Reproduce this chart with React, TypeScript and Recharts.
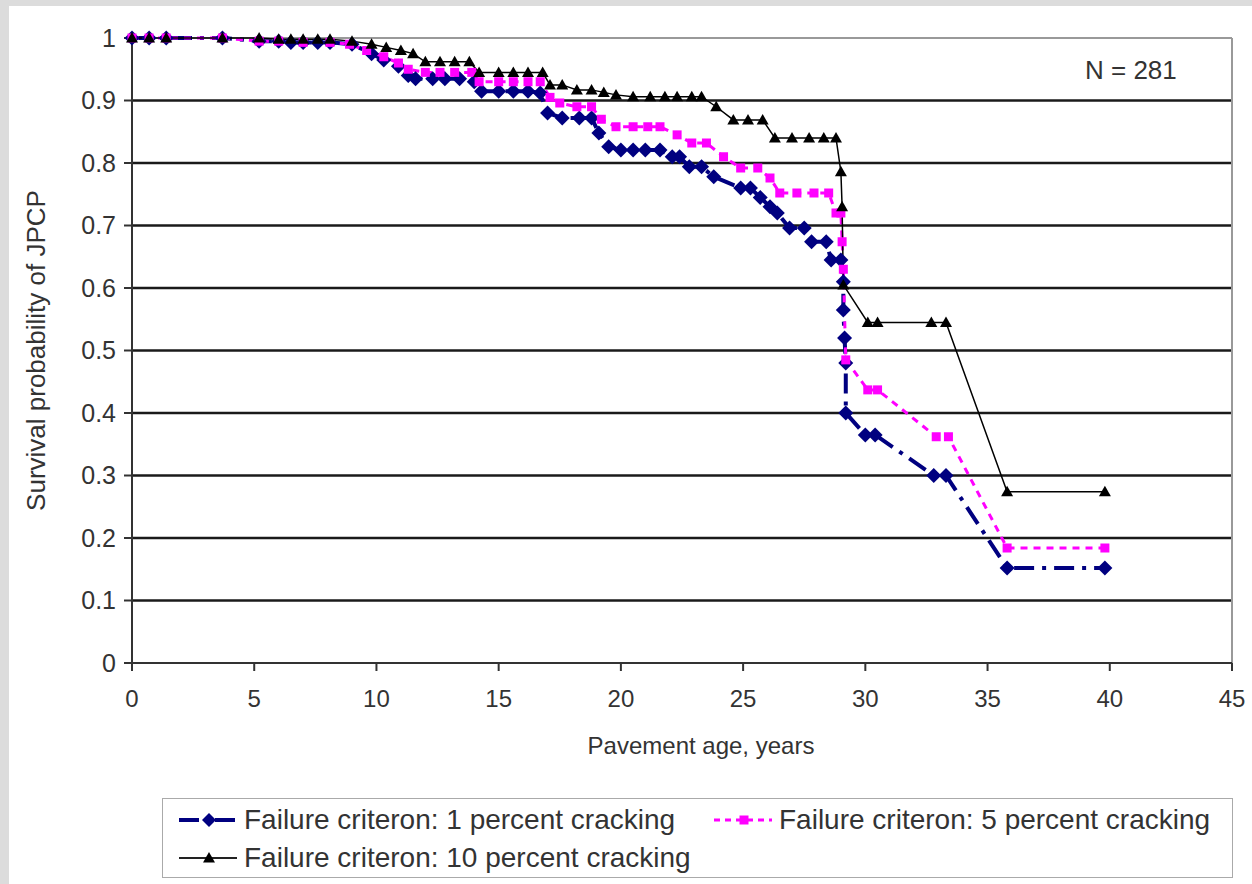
import { LineChart, Line, XAxis, YAxis, ReferenceLine } from 'recharts';

const xTicks = [0, 5, 10, 15, 20, 25, 30, 35, 40, 45];
const yTicks = [0, 0.1, 0.2, 0.3, 0.4, 0.5, 0.6, 0.7, 0.8, 0.9, 1];
const gridLevels = [0.1, 0.2, 0.3, 0.4, 0.5, 0.6, 0.7, 0.8, 0.9];

const seriesNames = [
  'Failure criteron: 1 percent cracking',
  'Failure criteron: 5 percent cracking',
  'Failure criteron: 10 percent cracking',
];

// [age, survival probability]
const crack1: [number, number][] = [
  [0, 1], [0.7, 1], [1.4, 1], [3.7, 1], [5.2, 0.995], [6, 0.995], [6.5, 0.993], [7, 0.993],
  [7.6, 0.993], [8.1, 0.993], [9, 0.99], [9.8, 0.975], [10.3, 0.965], [10.9, 0.955], [11.3, 0.94],
  [11.6, 0.935], [12.3, 0.935], [12.8, 0.935], [13.4, 0.935], [14, 0.93], [14.3, 0.915], [15, 0.915],
  [15.6, 0.915], [16.2, 0.915], [16.7, 0.912], [17, 0.88], [17.6, 0.872], [18.3, 0.872], [18.8, 0.872],
  [19.1, 0.848], [19.5, 0.826], [20, 0.821], [20.5, 0.821], [21, 0.821], [21.6, 0.821], [22.1, 0.81],
  [22.4, 0.81], [22.8, 0.794], [23.3, 0.794], [23.8, 0.778], [24.9, 0.76], [25.3, 0.76], [25.7, 0.745],
  [26.1, 0.73], [26.4, 0.72], [26.9, 0.696], [27.5, 0.696], [27.8, 0.674], [28.4, 0.674], [28.6, 0.645],
  [29, 0.645], [29.1, 0.61], [29.1, 0.565], [29.15, 0.52], [29.2, 0.48], [29.2, 0.4], [30, 0.365],
  [30.4, 0.365], [32.8, 0.3], [33.3, 0.3], [35.8, 0.152], [39.8, 0.152],
];

const crack5: [number, number][] = [
  [0, 1], [0.7, 1], [1.4, 1], [3.7, 1], [5.2, 0.995], [6, 0.995], [7, 0.993], [8.1, 0.993],
  [8.9, 0.99], [9.6, 0.98], [10.3, 0.97], [10.9, 0.96], [11.3, 0.95], [12, 0.945], [12.6, 0.945],
  [13.2, 0.945], [13.9, 0.945], [14.2, 0.93], [15, 0.93], [15.6, 0.93], [16.2, 0.93], [16.7, 0.93],
  [17.1, 0.905], [17.5, 0.896], [18.2, 0.89], [18.8, 0.89], [19.2, 0.87], [19.8, 0.858], [20.5, 0.858],
  [21.1, 0.858], [21.6, 0.858], [22.3, 0.845], [22.9, 0.832], [23.5, 0.832], [24.2, 0.81], [24.9, 0.792],
  [25.6, 0.792], [26.1, 0.776], [26.5, 0.752], [27.2, 0.752], [27.9, 0.752], [28.5, 0.752], [28.8, 0.72],
  [29, 0.72], [29.05, 0.674], [29.1, 0.63], [29.2, 0.485], [30.1, 0.437], [30.5, 0.437], [32.9, 0.362],
  [33.4, 0.362], [35.8, 0.184], [39.8, 0.184],
];

const crack10: [number, number][] = [
  [0, 1], [0.7, 1], [1.4, 1], [3.7, 1], [5.2, 1], [6, 0.998], [6.5, 0.998], [7, 0.998], [7.6, 0.998],
  [8.1, 0.998], [9, 0.995], [9.8, 0.99], [10.4, 0.985], [11, 0.98], [11.5, 0.975], [12, 0.962],
  [12.6, 0.962], [13.2, 0.962], [13.8, 0.962], [14.2, 0.945], [15, 0.945], [15.6, 0.945], [16.2, 0.945],
  [16.8, 0.945], [17.1, 0.925], [17.6, 0.925], [18.2, 0.917], [18.8, 0.917], [19.3, 0.913], [19.8, 0.909],
  [20.5, 0.906], [21.2, 0.906], [21.8, 0.906], [22.3, 0.906], [22.9, 0.906], [23.3, 0.906], [23.9, 0.89],
  [24.6, 0.869], [25.2, 0.869], [25.8, 0.869], [26.3, 0.84], [27, 0.84], [27.7, 0.84], [28.3, 0.84],
  [28.8, 0.84], [29, 0.786], [29.05, 0.73], [29.1, 0.605], [30.1, 0.545], [30.5, 0.545], [32.7, 0.545],
  [33.3, 0.545], [35.8, 0.274], [39.8, 0.274],
];

const toPoints = (pairs: [number, number][]) => pairs.map(([age, p]) => ({ age, p }));

const BLUE = '#000080';
const MAGENTA = '#ff00ff';
const BLACK = '#000000';
const TEXT = '#333';
const FONT = '"Liberation Sans", Arial, sans-serif';

function diamond(cx: number, cy: number, r: number) {
  return `M${cx},${cy - r}L${cx + r},${cy}L${cx},${cy + r}L${cx - r},${cy}Z`;
}
function triangle(cx: number, cy: number, r: number) {
  return `M${cx},${cy - r}L${cx + r},${cy + r * 0.75}L${cx - r},${cy + r * 0.75}Z`;
}

const blueDot = (props: any) => (
  <path key={`b${props.index}`} d={diamond(props.cx, props.cy, 7.5)} fill={BLUE} />
);
const magentaDot = (props: any) => (
  <rect key={`m${props.index}`} x={props.cx - 4.5} y={props.cy - 4.5} width={9} height={9} fill={MAGENTA} />
);
const blackDot = (props: any) => (
  <path key={`k${props.index}`} d={triangle(props.cx, props.cy, 6)} fill={BLACK} />
);

function LegendSymbol({ kind }: { kind: number }) {
  return (
    <svg width={60} height={18} style={{ display: 'block', flex: 'none' }}>
      {kind === 0 && (
        <>
          <line x1={1} y1={9} x2={59} y2={9} stroke={BLUE} strokeWidth={4} strokeDasharray="20 6 4 6" />
          <path d={diamond(31, 9, 7)} fill={BLUE} />
        </>
      )}
      {kind === 1 && (
        <>
          <line x1={1} y1={9} x2={59} y2={9} stroke={MAGENTA} strokeWidth={3} strokeDasharray="6 5" />
          <rect x={26.5} y={4.5} width={9} height={9} fill={MAGENTA} />
        </>
      )}
      {kind === 2 && (
        <>
          <line x1={1} y1={9} x2={59} y2={9} stroke="#222" strokeWidth={2} />
          <path d={triangle(31, 9, 6)} fill={BLACK} />
        </>
      )}
    </svg>
  );
}

export default function App() {
  const legendPos = [
    { left: 15, top: 5 },
    { left: 550, top: 5 },
    { left: 15, top: 43 },
  ];
  return (
    <div style={{ position: 'fixed', left: 0, top: 0, width: 1252, height: 884, background: '#dcdcdc' }}>
      <div style={{ position: 'absolute', left: 9, top: 6, width: 1243, height: 878, background: '#fff' }}>
        <LineChart width={1243} height={878} margin={{ top: 32, right: 20, left: 10, bottom: 121 }}>
          <XAxis
            type="number"
            dataKey="age"
            domain={[0, 45]}
            ticks={xTicks}
            tickSize={8}
            tickMargin={19}
            stroke="#333"
            strokeWidth={2}
            height={100}
            tick={{ fontSize: 24, fill: TEXT, fontFamily: FONT }}
            label={{ value: 'Pavement age, years', position: 'insideBottom', offset: 9, dx: 19, fontSize: 24, fill: TEXT, fontFamily: FONT }}
          />
          <YAxis
            type="number"
            domain={[0, 1]}
            ticks={yTicks}
            width={113}
            tickSize={8}
            tickMargin={8}
            stroke="#333"
            strokeWidth={2}
            tickFormatter={(v: number) => (v === 0 || v === 1 ? String(v) : v.toFixed(1))}
            tick={{ fontSize: 25, fill: TEXT, fontFamily: FONT }}
            label={{ value: 'Survival probability of JPCP', angle: -90, position: 'insideLeft', offset: 17, fontSize: 26, fill: TEXT, fontFamily: FONT, style: { textAnchor: 'middle' } }}
          />
          {gridLevels.map((g) => (
            <ReferenceLine key={g} y={g} stroke="#1a1a1a" strokeWidth={2.5} />
          ))}
          <ReferenceLine y={1} stroke="#999" strokeWidth={2} />
          <ReferenceLine x={45} stroke="#999" strokeWidth={2} />
          <Line
            data={toPoints(crack1)}
            dataKey="p"
            name={seriesNames[0]}
            stroke={BLUE}
            strokeWidth={4}
            strokeDasharray="20 8 4 8"
            dot={blueDot}
            activeDot={false}
            isAnimationActive={false}
            type="linear"
          />
          <Line
            data={toPoints(crack5)}
            dataKey="p"
            name={seriesNames[1]}
            stroke={MAGENTA}
            strokeWidth={3}
            strokeDasharray="7 6"
            dot={magentaDot}
            activeDot={false}
            isAnimationActive={false}
            type="linear"
          />
          <Line
            data={toPoints(crack10)}
            dataKey="p"
            name={seriesNames[2]}
            stroke={BLACK}
            strokeWidth={1.5}
            dot={blackDot}
            activeDot={false}
            isAnimationActive={false}
            type="linear"
          />
        </LineChart>
        <div style={{ position: 'absolute', left: 1076, top: 49, fontSize: 26, fontFamily: FONT, color: TEXT, whiteSpace: 'nowrap' }}>
          N = 281
        </div>
        <div
          style={{
            position: 'absolute',
            left: 153,
            top: 792,
            width: 1071,
            height: 80,
            border: '1px solid #aaa',
            boxSizing: 'border-box',
            fontFamily: FONT,
            fontSize: 28,
            color: TEXT,
          }}
        >
          {seriesNames.map((name, i) => (
            <div
              key={name}
              style={{ position: 'absolute', left: legendPos[i].left, top: legendPos[i].top, display: 'flex', alignItems: 'center', gap: 6, whiteSpace: 'nowrap' }}
            >
              <LegendSymbol kind={i} />
              <span>{name}</span>
            </div>
          ))}
        </div>
      </div>
    </div>
  );
}
